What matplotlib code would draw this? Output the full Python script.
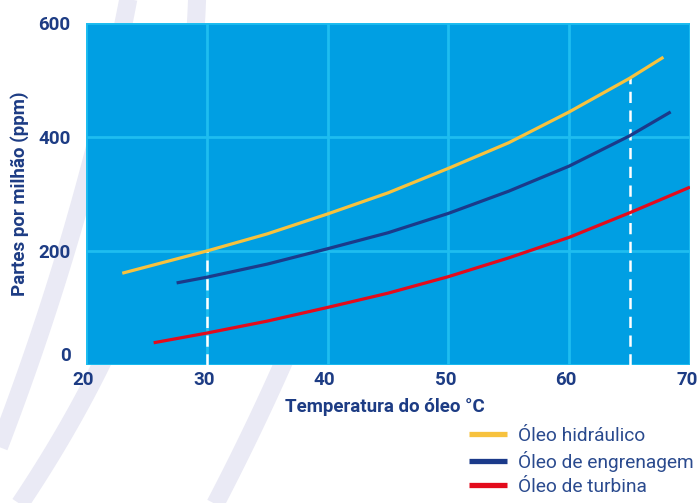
import numpy as np
import matplotlib
matplotlib.use('Agg')
import matplotlib.pyplot as plt
import matplotlib.transforms as mtransforms
from matplotlib.lines import Line2D

# leitura do grafico
temp_hidraulico = [23.0, 30, 35, 40, 45, 50, 55, 60, 65, 67.8]
ppm_hidraulico = [161, 200, 230, 265, 302, 345, 390, 444, 503, 540]
temp_engrenagem = [27.5, 30, 35, 40, 45, 50, 55, 60, 65, 68.4]
ppm_engrenagem = [144, 154, 177, 204, 232, 266, 305, 349, 402, 444]
temp_turbina = [25.6, 30, 35, 40, 45, 50, 55, 60, 65, 70]
ppm_turbina = [39, 56, 77, 101, 126, 155, 188, 224, 267, 312]

ref_temps = [30, 65]
ref_ppm = [200, 503]

series_names = ["Óleo hidráulico", "Óleo de engrenagem", "Óleo de turbina"]
series_colors = ["#F7C23E", "#1B3A8A", "#E30B1C"]

x_ticks = [20, 30, 40, 50, 60, 70]
y_ticks = [0, 200, 400, 600]

font = ['Roboto', 'DejaVu Sans']
navy = "#1D3C84"

W, H = 699, 503
fig = plt.figure(figsize=(W / 100, H / 100), dpi=100)

# faixas decorativas do fundo (em pixels da imagem)
stripes = [
    ([0, 195, 300, 445], [128, 83, 50, 0]),
    ([0, 365, 440, 510], [197, 101, 60, 16]),
    ([250, 365, 440, 510], [330, 282, 248, 212]),
]
for ys, xs in stripes:
    c = np.polyfit(ys, xs, 2)
    yy = np.linspace(ys[0] - 10, ys[-1] + 10, 100)
    xx = np.polyval(c, yy)
    fig.add_artist(Line2D(xx / W, 1 - yy / H, transform=fig.transFigure,
                          color="#EAEAF5", lw=13, solid_capstyle='butt', zorder=0))

ax = fig.add_axes([86 / W, 1 - 365 / H, (690 - 86) / W, (365 - 23) / H])
ax.set_zorder(1)
ax.set_facecolor("#009FE3")

temps = [temp_hidraulico, temp_engrenagem, temp_turbina]
vals = [ppm_hidraulico, ppm_engrenagem, ppm_turbina]
for t, v, name, col in zip(temps, vals, series_names, series_colors):
    ax.plot(t, v, color=col, lw=2.3, label=name, zorder=4, solid_capstyle='butt')

for t, v in zip(ref_temps, ref_ppm):
    ax.plot([t, t], [0, v], color="white", lw=1.8, dashes=(4.5, 3), zorder=3)

ax.set_xlim(20, 70)
ax.set_ylim(0, 600)
ax.set_xticks(x_ticks)
ax.set_yticks(y_ticks)
ax.grid(True, color="#1EBDF0", lw=2)
ax.set_axisbelow(True)
for s in ax.spines.values():
    s.set_visible(False)
ax.tick_params(length=0, colors=navy)
ax.tick_params(axis='y', pad=11)
ax.tick_params(axis='x', pad=4)
for lab in ax.get_xticklabels() + ax.get_yticklabels():
    lab.set_fontfamily(font)
    lab.set_fontweight('bold')
    lab.set_fontsize(13.5)
ax.get_yticklabels()[0].set_verticalalignment('bottom')

# rotulos do eixo x um pouco para a esquerda, como no original
shift = mtransforms.ScaledTranslation(-3 / 100, 0, fig.dpi_scale_trans)
for lab in ax.get_xticklabels():
    lab.set_transform(lab.get_transform() + shift)

ax.set_xlabel("Temperatura do óleo °C", family=font, fontweight='bold',
              fontsize=13.5, color=navy, va='center')
ax.xaxis.set_label_coords(0.495, -0.123)
ax.set_ylabel("Partes por milhão (ppm)", family=font, fontweight='bold',
              fontsize=13.5, color=navy, va='center')
ax.yaxis.set_label_coords(-0.11, 0.5)

leg = ax.legend(loc='upper left', bbox_to_anchor=(469 / W, 1 - 427 / H),
                bbox_transform=fig.transFigure, frameon=False,
                prop={'family': font, 'size': 13.8}, handlelength=2.0,
                handletextpad=0.55, labelspacing=0.3, borderpad=0, borderaxespad=0)
for line in leg.get_lines():
    line.set_linewidth(3.8)
for txt in leg.get_texts():
    txt.set_color("#2A4A8E")

fig.savefig("out.png", dpi=100)
